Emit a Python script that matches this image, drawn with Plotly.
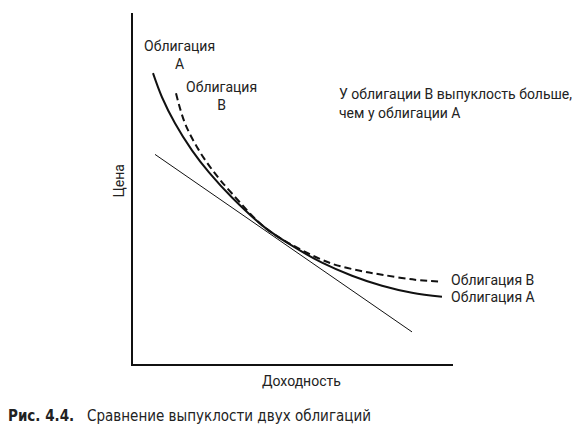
import plotly.graph_objects as go

# Кривые цена/доходность (условные единицы)
yield_a = [20, 29, 42, 59, 76, 99, 132, 159, 189, 219, 249, 279, 309]
price_a = [290, 266, 240, 213, 191, 166, 136, 118, 101, 88, 78, 71, 67]

yield_b = [43, 52, 66, 82, 99, 132, 166, 199, 227, 249, 282, 309]
price_b = [270, 240, 213, 190, 170, 136, 115, 100, 93, 89, 84, 82]

# Касательная
yield_t = [22, 279]
price_t = [209, 32]

ink = "#111111"
txt = "#222222"
font_main = "Roboto, 'Noto Sans', sans-serif"

fig = go.Figure()

fig.add_trace(go.Scatter(
    x=yield_t, y=price_t, mode="lines",
    line=dict(color=ink, width=1), hoverinfo="skip"
))
fig.add_trace(go.Scatter(
    x=yield_a, y=price_a, mode="lines", name="Облигация А",
    line=dict(color=ink, width=2, shape="spline"), hoverinfo="skip"
))
fig.add_trace(go.Scatter(
    x=yield_b, y=price_b, mode="lines", name="Облигация В",
    line=dict(color=ink, width=2, shape="spline", dash="7px,4px"), hoverinfo="skip"
))

def note(x, y, text, ref="", **kw):
    d = dict(x=x, y=y, text=text, showarrow=False,
             xref=ref or "x", yref=ref or "y",
             font=dict(family=font_main, size=14, color=txt))
    d.update(kw)
    fig.add_annotation(**d)

note(46, 308, "Облигация<br>А")
note(88, 267, "Облигация<br>В")
note(204, 269, "У облигации В выпуклость больше,", xanchor="left")
note(204, 250, "чем у облигации А", xanchor="left")
note(316, 84, "Облигация В", xanchor="left")
note(316, 67, "Облигация А", xanchor="left")

# подписи осей и подпись рисунка (за пределами области построения)
note(-0.075, 0.52, "Цена", ref="paper", textangle=-90)
note(0.528, -0.077, "Доходность", ref="paper")
note(-0.396, -0.18,
     "<b>Рис. 4.4.</b> &nbsp;&nbsp;Сравнение выпуклости двух облигаций",
     ref="paper", xanchor="left",
     font=dict(family="'DejaVu Sans Condensed', 'Liberation Sans Narrow', sans-serif",
               size=15, color=txt))

axis_style = dict(showgrid=False, zeroline=False, showticklabels=False,
                  ticks="", showline=True, linecolor=ink, linewidth=1.5,
                  fixedrange=True)

fig.update_xaxes(range=[0, 320], **axis_style)
fig.update_yaxes(range=[0, 350], **axis_style)

fig.update_layout(
    width=585, height=443,
    margin=dict(l=125, r=140, t=5, b=87),
    plot_bgcolor="white", paper_bgcolor="white",
    showlegend=False,
)

fig.write_html("out.html")
